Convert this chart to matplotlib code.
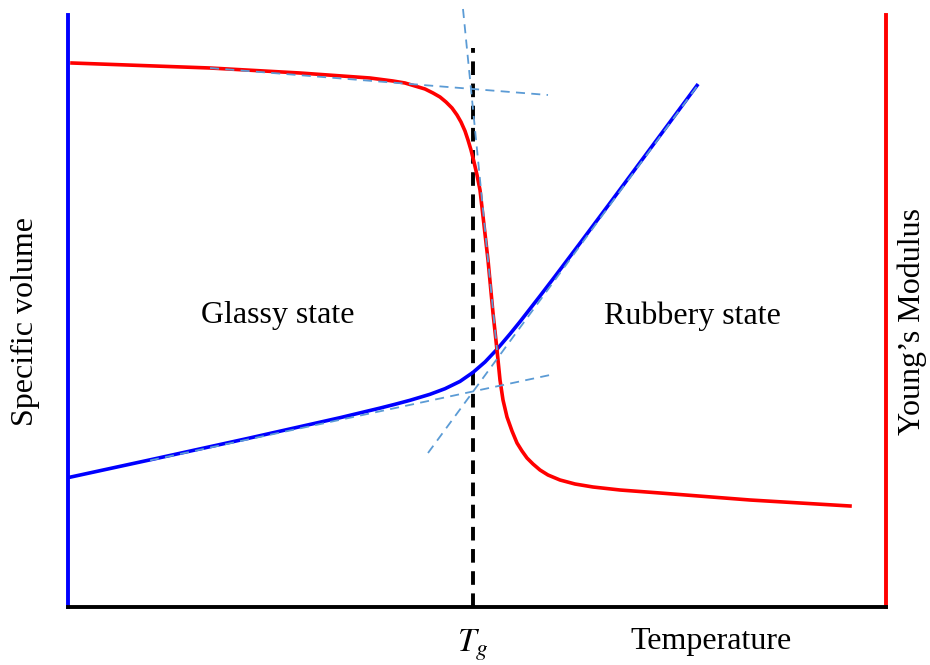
import matplotlib
matplotlib.use('Agg')
import matplotlib.pyplot as plt

plt.rcParams['font.family'] = ['Liberation Serif', 'DejaVu Serif']
plt.rcParams['mathtext.fontset'] = 'stix'

# schematic units: temperature (x) and property value (y), both arbitrary
tg = 405

# specific volume (blue)
vol_t = [2, 85, 179, 272, 312, 327, 342, 362, 377, 392, 405, 417, 429, 442, 452, 472, 487, 512, 545, 579, 629]
vol_v = [129.8, 147.8, 168.4, 189.3, 198.9, 202.7, 206.7, 212.7, 218.3, 225.6, 234.6, 245.0, 257.7, 273.0, 285.3, 311.0, 330.6, 363.8, 408.0, 453.9, 521.5]

# young's modulus (red)
mod_t = [4, 142, 232, 302, 325, 337, 347, 357, 365, 372, 378, 384, 389, 393, 397, 400, 403, 406, 409, 412,
         416, 420, 425, 429, 432, 435, 439, 444, 449, 454, 459, 465, 472, 480, 492, 507, 525, 552, 592, 682, 782]
mod_v = [544, 539, 534, 529, 526, 524, 521, 518, 514, 510, 505, 499, 492, 485, 476, 467, 457, 445, 432, 417,
         382, 347, 294, 257, 227, 207, 190, 176, 164, 156, 149, 143, 137, 132, 127, 123, 120, 117, 114, 107, 101]

# asymptote guides (start, end)
glass_t, glass_v = [82, 482], [146.6, 232]
rubber_t, rubber_v = [360, 629], [154, 520.7]
mod_flat_t, mod_flat_v = [142, 480], [539, 512]
mod_steep_t, mod_steep_v = [395, 429], [598, 257]

fig = plt.figure(figsize=(9.3, 6.65), dpi=100)
ax = fig.add_axes([68/930, 58/665, 818/930, 592/665])
ax.set_xlim(0, 818)
ax.set_ylim(0, 592)

guide = dict(color='#5b9bd5', lw=1.3, dashes=(5, 3.5), clip_on=False, zorder=3)
ax.plot(vol_t, vol_v, color='#0000ff', lw=2.6, zorder=2)
ax.plot(mod_t, mod_v, color='#ff0000', lw=2.6, zorder=2)
ax.plot(glass_t, glass_v, **guide)
ax.plot(rubber_t, rubber_v, **guide)
ax.plot(mod_flat_t, mod_flat_v, **guide)
ax.plot(mod_steep_t, mod_steep_v, **guide)

ax.plot([tg, tg], [0, 559], color='black', lw=2.8, dashes=(3.5, 2.2), zorder=1)

ax.spines['top'].set_visible(False)
ax.spines['left'].set_color('#0000ff')
ax.spines['right'].set_color('#ff0000')
ax.spines['bottom'].set_color('black')
for s in ['left', 'right', 'bottom']:
    ax.spines[s].set_linewidth(2.8)
ax.set_xticks([])
ax.set_yticks([])

ax.text(210, 291, 'Glassy state', fontsize=23, ha='center', va='center')
ax.text(624, 291, 'Rubbery state', fontsize=23, ha='center', va='center')
fig.text(473/930, 1 - 645/665, '$T_g$', fontsize=24, ha='center', va='center')
fig.text(711/930, 1 - 642/665, 'Temperature', fontsize=23, ha='center', va='center')
fig.text(25/930, 1 - 322/665, 'Specific volume', fontsize=23, ha='center', va='center', rotation=90)
fig.text(912/930, 1 - 322/665, 'Young\u2019s Modulus', fontsize=23, ha='center', va='center', rotation=90)

fig.savefig('out.png', dpi=100)
